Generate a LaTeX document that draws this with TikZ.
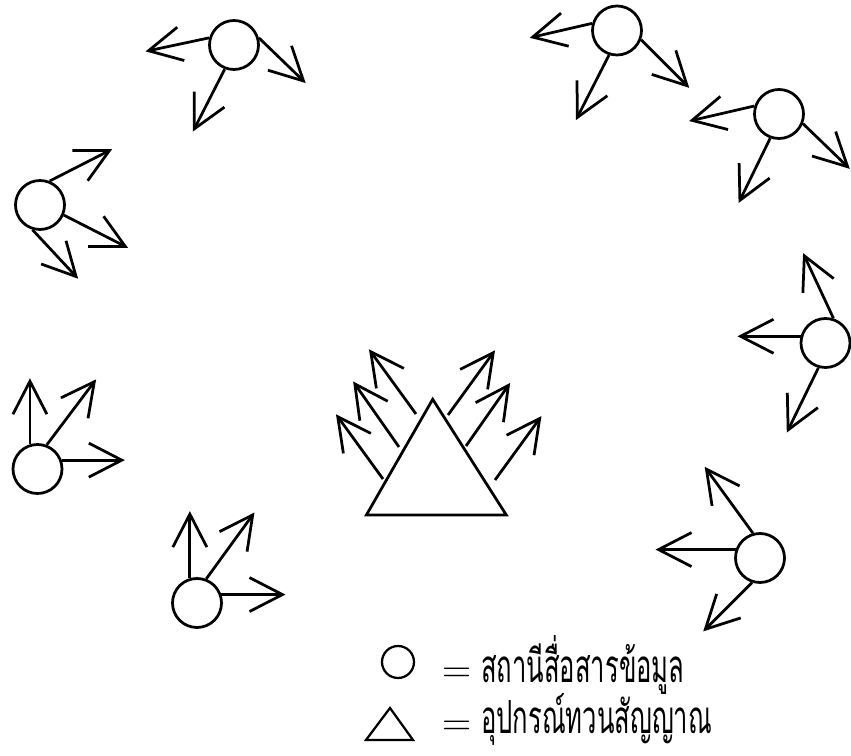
\documentclass[tikz,border=0pt]{standalone}
\usepackage{fontspec}
\newfontfamily\thaifont[Script=Thai]{Loma}
\usetikzlibrary{arrows.meta, calc}

\tikzset{
	stn/.style={draw, circle, line width=0.55mm, minimum size=9.8mm, inner sep=0pt},
	sig/.style={line width=0.55mm, -{Straight Barb[length=6.6mm, width=6.8mm]}},
	lgtext/.style={font=\thaifont\fontsize{26}{28}\selectfont, inner sep=0pt, anchor=base west},
	eqsign/.style={font=\fontsize{23}{25}\selectfont, inner sep=0pt},
}

\begin{document}
\begin{tikzpicture}[x=0.2mm, y=0.2mm]
	\useasboundingbox (0,0) rectangle (851,756);
	% stations
	\foreach \n/\x/\y in {s1/234/711, s2/617/725.5, s3/779/642, s4/40/551,
		s5/37.5/287, s6/197/153, s7/825.5/413, s8/760/198}
		{\node[stn] (\n) at (\x,\y) {};}
	% signals: station/anchor/direction/length
	\foreach \n/\a/\d/\l in {s1/164/192/65, s1/249/243/70, s1/16/316/65,
		s2/164/193/64, s2/252/243/73, s2/339/315/68,
		s3/162/193/67, s3/250/244/72, s3/338/316/65,
		s4/68/27/70, s4/337/333/72, s4/253/313/67,
		s5/107/90/66, s5/69/53/82, s5/20/0/63,
		s6/106/90/67, s6/69/54/82, s6/19/0/64,
		s7/165/180/63, s7/72/115/72, s7/254/244/72,
		s8/161/180/80, s8/106/126/82, s8/252/225/69}
		{\draw[sig] (\n.\a) -- ++(\d:\l) coordinate (\n-\d);}
	% repeater
	\coordinate (top) at (432.7,356.7);
	\coordinate (bl) at (366.4,241);
	\coordinate (br) at (506.3,241);
	\draw[line width=0.55mm, line join=miter] (bl) -- (top) -- (br) -- cycle;
	\foreach \n/\x/\y/\d/\l in {a1/416/342/126/80, a2/399/309/125/80, a3/383/277/126/80,
		b1/448/341/54/80, b2/466/310/55/77, b3/495/276/54/79}
		{\coordinate (\n) at (\x,\y); \draw[sig] (\n) -- ++(\d:\l) coordinate (\n-tip);}
	% legend
	\node[stn, minimum size=6.4mm, line width=0.45mm] (lc) at (398,94) {};
	\coordinate (lt1) at (366,16);
	\coordinate (lt2) at (390,48);
	\coordinate (lt3) at (413,16);
	\draw[line width=0.45mm] (lt1) -- (lt2) -- (lt3) -- cycle;
	\node[eqsign] (e1) at (457,81) {=};
	\node[eqsign] (e2) at (457,28) {=};
	\node[lgtext] (t1) at (481,73) {\scalebox{.56}[1]{สถานีสื่อสารข้อมูล}};
	\node[lgtext] (t2) at (481,22) {\scalebox{.56}[1]{อุปกรณ์ทวนสัญญาณ}};
\end{tikzpicture}
\end{document}
